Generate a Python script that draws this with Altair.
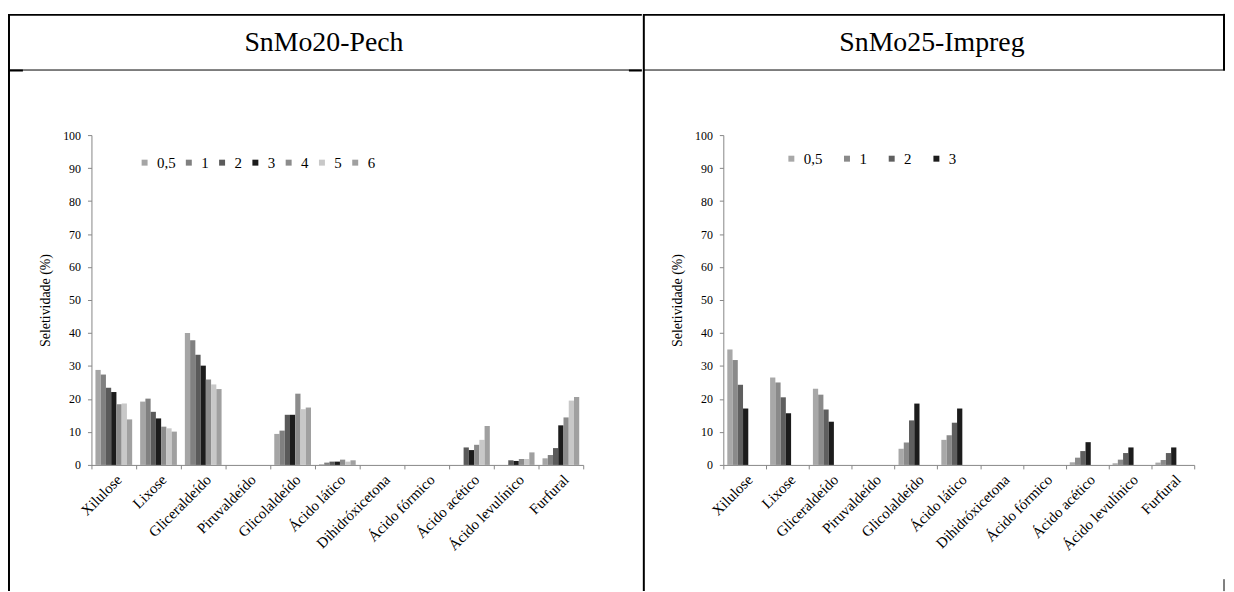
import altair as alt
import pandas as pd

categories = ["Xilulose", "Lixose", "Gliceraldeído", "Piruvaldeído", "Glicolaldeído",
              "Ácido lático", "Dihidróxicetona", "Ácido fórmico", "Ácido acético",
              "Ácido levulínico", "Furfural"]

# SnMo20-Pech (left panel)
left_series = ["0,5", "1", "2", "3", "4", "5", "6"]
left_colors = ["#a5a5a5", "#808080", "#5a5a5a", "#1c1c1c", "#8c8c8c", "#c8c8c8", "#a0a0a0"]
left_05 = [28.8, 19.2, 40.0, 0, 9.4, 0.2, 0, 0, 0, 0, 2.0]
left_1 = [27.4, 20.1, 37.8, 0, 10.4, 0.7, 0, 0, 0, 0, 3.0]
left_2 = [23.4, 16.1, 33.4, 0, 15.2, 1.0, 0, 0, 5.3, 1.4, 5.1]
left_3 = [22.1, 14.1, 30.1, 0, 15.2, 1.0, 0, 0, 4.5, 1.2, 12.0]
left_4 = [18.4, 11.6, 25.9, 0, 21.6, 1.6, 0, 0, 6.1, 1.8, 14.4]
left_5 = [18.6, 11.1, 24.4, 0, 16.9, 1.0, 0, 0, 7.6, 1.8, 19.5]
left_6 = [13.8, 10.1, 23.0, 0, 17.4, 1.4, 0, 0, 11.8, 3.8, 20.6]

# SnMo25-Impreg (right panel)
right_series = ["0,5", "1", "2", "3"]
right_colors = ["#a8a8a8", "#8a8a8a", "#5f5f5f", "#1c1c1c"]
right_05 = [35.0, 26.5, 23.1, 0, 4.9, 7.6, 0, 0, 0.8, 0.5, 0.7]
right_1 = [31.8, 25.0, 21.3, 0, 6.8, 9.0, 0, 0, 2.2, 1.6, 1.5]
right_2 = [24.3, 20.5, 16.8, 0, 13.5, 12.8, 0, 0, 4.2, 3.6, 3.6]
right_3 = [17.1, 15.7, 13.1, 0, 18.6, 17.1, 0, 0, 6.9, 5.3, 5.3]

y_ticks = list(range(0, 101, 10))
FONT = "Liberation Serif"
AXIS_GRAY = "#868686"
one_row = pd.DataFrame({"k": [0]})


def long_frame(series, values):
    rows = []
    for s, vals in zip(series, values):
        for c, v in zip(categories, vals):
            rows.append({"cat": c, "serie": s, "val": v})
    return pd.DataFrame(rows)


def hline(ox, oy, x1, x2, y, sw):
    return alt.Chart(one_row).mark_rule(color="black", strokeWidth=sw, strokeCap="butt").encode(
        x=alt.value(x1 - ox), x2=alt.value(x2 - ox), y=alt.value(y - oy))


def vline(ox, oy, x, y1, y2, sw):
    return alt.Chart(one_row).mark_rule(color="black", strokeWidth=sw, strokeCap="butt").encode(
        x=alt.value(x - ox), y=alt.value(y1 - oy), y2=alt.value(y2 - oy))


def header(ox, oy, x, y, label):
    return alt.Chart(one_row).mark_text(font=FONT, fontSize=28, color="black",
                                        align="center", baseline="middle").encode(
        x=alt.value(x - ox), y=alt.value(y - oy), text=alt.value(label))


def panel(series, values, colors, width, pad_outer, legend_x, legend_y, col_pad):
    df = long_frame(series, values)
    return alt.Chart(df).mark_bar().encode(
        x=alt.X("cat:N", sort=categories,
                scale=alt.Scale(paddingInner=0, paddingOuter=0),
                axis=alt.Axis(title=None, labelAngle=-45, tickBand="extent",
                              labelFont=FONT, labelFontSize=15, labelColor="black",
                              domainColor=AXIS_GRAY, tickColor=AXIS_GRAY, tickSize=4,
                              labelPadding=3, grid=False)),
        xOffset=alt.XOffset("serie:N", sort=series,
                            scale=alt.Scale(paddingInner=0, paddingOuter=pad_outer)),
        y=alt.Y("val:Q", scale=alt.Scale(domain=[0, 100]),
                axis=alt.Axis(values=y_ticks, title="Seletividade (%)", grid=False,
                              labelFont=FONT, labelFontSize=12, labelColor="black",
                              titleFont=FONT, titleFontSize=14, titleFontWeight="normal",
                              titleColor="black", titlePadding=10,
                              domainColor=AXIS_GRAY, tickColor=AXIS_GRAY, tickSize=4,
                              labelPadding=7)),
        color=alt.Color("serie:N", sort=series,
                        scale=alt.Scale(domain=series, range=colors),
                        legend=alt.Legend(title=None, orient="none", direction="horizontal",
                                          legendX=legend_x, legendY=legend_y,
                                          symbolType="square", symbolSize=36,
                                          symbolStrokeWidth=0, labelFont=FONT,
                                          labelFontSize=15, labelColor="black",
                                          labelOffset=5, columnPadding=col_pad)),
    ).properties(width=width, height=332)


# left panel: plot origin at page (92, 133)
LX, LY = 92, 133
left_bars = panel(left_series, [left_05, left_1, left_2, left_3, left_4, left_5, left_6],
                  left_colors, 495, 0.76, 46, 20, 5.5)
left = alt.layer(
    left_bars,
    vline(LX, LY, 9, 11, 592, 2),
    hline(LX, LY, 9, 646, 12, 2),
    hline(LX, LY, 9, 646, 67.5, 1),
    hline(LX, LY, 9, 23, 68, 2),
    hline(LX, LY, 633, 646, 68, 2),
    header(LX, LY, 326, 40, "SnMo20-Pech"),
)

# right panel: plot origin at page (728, 133)
RX, RY = 728, 133
right_bars = panel(right_series, [right_05, right_1, right_2, right_3],
                   right_colors, 474, 0.8, 61, 16, 17)
right = alt.layer(
    right_bars,
    vline(RX, RY, 648, 11, 592, 2),
    hline(RX, RY, 648, 1233, 12, 2),
    hline(RX, RY, 648, 1233, 67.5, 1),
    vline(RX, RY, 1232, 11, 68, 2),
    vline(RX, RY, 1232, 580, 592, 1),
    header(RX, RY, 938, 40, "SnMo25-Impreg"),
)

chart = alt.hconcat(left, right, spacing=0).resolve_scale(
    color="independent"
).resolve_legend(color="independent").properties(
    padding={"left": 0, "top": 3, "right": 0, "bottom": 0}
).configure_view(stroke=None)

chart.save("out.html", embed_options={"renderer": "svg", "actions": False})
